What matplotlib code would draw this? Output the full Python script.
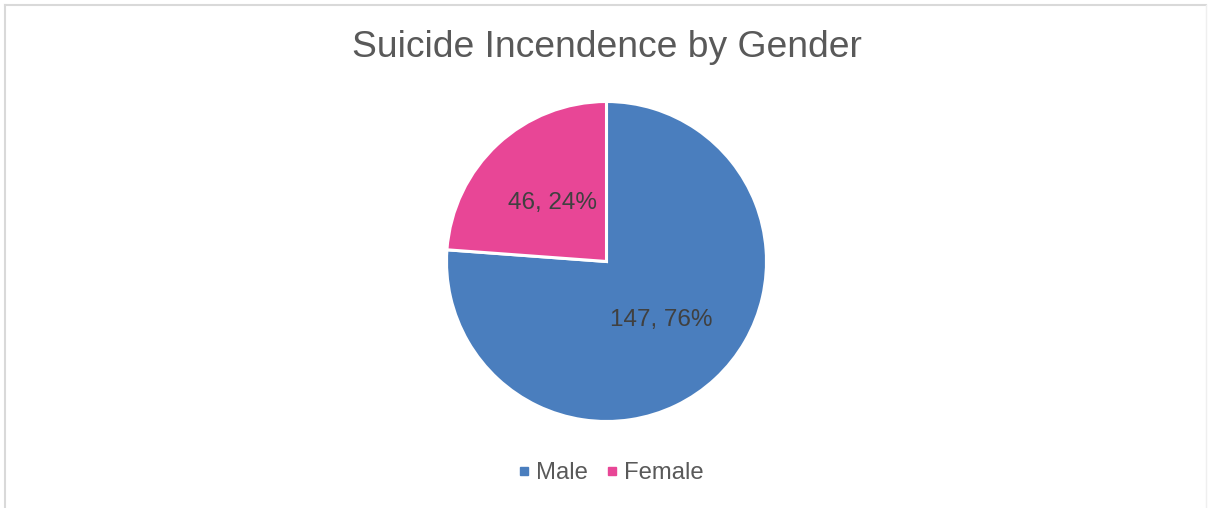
import matplotlib
matplotlib.use("Agg")
import matplotlib.pyplot as plt
from matplotlib.lines import Line2D

categories = ["Male", "Female"]
values = [147, 46]
colors = ["#4A7EBE", "#E84696"]
title = "Suicide Incendence by Gender"

plt.rcParams['font.family'] = ['Liberation Sans', 'DejaVu Sans']

W, H = 1208, 508
fig = plt.figure(figsize=(W / 100, H / 100), dpi=100)
fig.patch.set_facecolor("white")

# outer frame (top and left clearly visible, right very faint)
def px_line(x0, y0, x1, y1, color, lw):
    fig.add_artist(Line2D([x0 / W, x1 / W], [1 - y0 / H, 1 - y1 / H],
                          transform=fig.transFigure, color=color, linewidth=lw))

px_line(4.5, 4.5, 1206, 4.5, "#D9D9D9", 1.5)
px_line(4.5, 4.5, 4.5, H + 5, "#D9D9D9", 1.5)
px_line(1206, 4.5, 1206, H + 5, "#EFEFEF", 1.0)

cx, cy, r = 606.5, H - 261.5, 160
ax = fig.add_axes([(cx - r) / W, (cy - r) / H, 2 * r / W, 2 * r / H])
total = sum(values)


def fmt(pct):
    v = int(round(pct * total / 100))
    return f"{v}, {int(round(pct))}%"


wedges, texts, autotexts = ax.pie(values, colors=colors, startangle=90, counterclock=False,
                                  autopct=fmt, pctdistance=0.5, radius=1,
                                  wedgeprops=dict(edgecolor="white", linewidth=2.2),
                                  textprops=dict(color="#404040", fontsize=17.5))
ax.set_xlim(-1, 1)
ax.set_ylim(-1, 1)
ax.set_aspect("equal")
ax.axis("off")

fig.text(0.5025, 1 - 47 / H, title, ha="center", va="center", fontsize=26.8, color="#595959")

handles = [Line2D([], [], marker="s", linestyle="none", markersize=5.8,
                  markerfacecolor=c, markeredgecolor=c) for c in colors]
fig.legend(handles, categories, loc="center", bbox_to_anchor=(0.5046, 1 - 473 / H),
           ncol=2, frameon=False, fontsize=17.2, labelcolor="#595959",
           handletextpad=0.15, columnspacing=0.69, handlelength=0.7)

fig.savefig("out.png", dpi=100, facecolor="white")
